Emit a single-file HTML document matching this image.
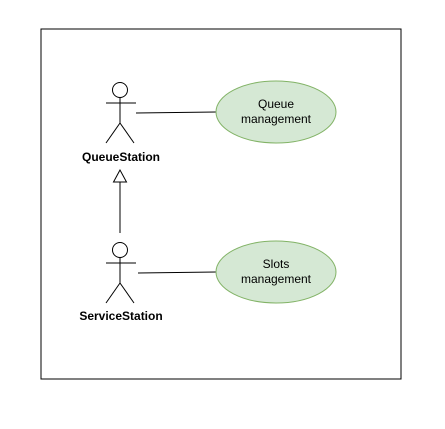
<!DOCTYPE html>
<html><head><style>body{margin:0;background:#fff}</style></head><body>
<svg width="445" height="424" xmlns="http://www.w3.org/2000/svg" font-family="Liberation Sans, sans-serif">
<rect x="41" y="29" width="360" height="350" fill="#fff" stroke="#000" stroke-width="1"/>
<g stroke="#000" stroke-width="1" fill="none">
<circle cx="120" cy="90" r="7.5" fill="#fff"/>
<line x1="120" y1="97.5" x2="120" y2="123"/>
<line x1="106" y1="103" x2="136" y2="103"/>
<line x1="120" y1="123" x2="106" y2="143"/>
<line x1="120" y1="123" x2="134" y2="143"/>
<circle cx="120" cy="250" r="7.5" fill="#fff"/>
<line x1="120" y1="257.5" x2="120" y2="283"/>
<line x1="106" y1="263" x2="136" y2="263"/>
<line x1="120" y1="283" x2="106" y2="303"/>
<line x1="120" y1="283" x2="134" y2="303"/>
<line x1="136" y1="113" x2="216" y2="112"/>
<line x1="138" y1="273" x2="216" y2="272"/>
<line x1="120" y1="233" x2="120" y2="182"/>
<polygon points="120,170 113.5,182 126.5,182" fill="#fff"/>
</g>
<ellipse cx="276" cy="112" rx="60" ry="31" fill="#d5e8d4" stroke="#82b366"/>
<ellipse cx="276" cy="272" rx="60" ry="31" fill="#d5e8d4" stroke="#82b366"/>
<g font-size="12" text-anchor="middle" fill="#000">
<text x="276" y="108">Queue</text>
<text x="276" y="123">management</text>
<text x="276" y="268">Slots</text>
<text x="276" y="283">management</text>
<text x="121" y="161" font-weight="bold">QueueStation</text>
<text x="121" y="320" font-weight="bold">ServiceStation</text>
</g>
</svg>
</body></html>
